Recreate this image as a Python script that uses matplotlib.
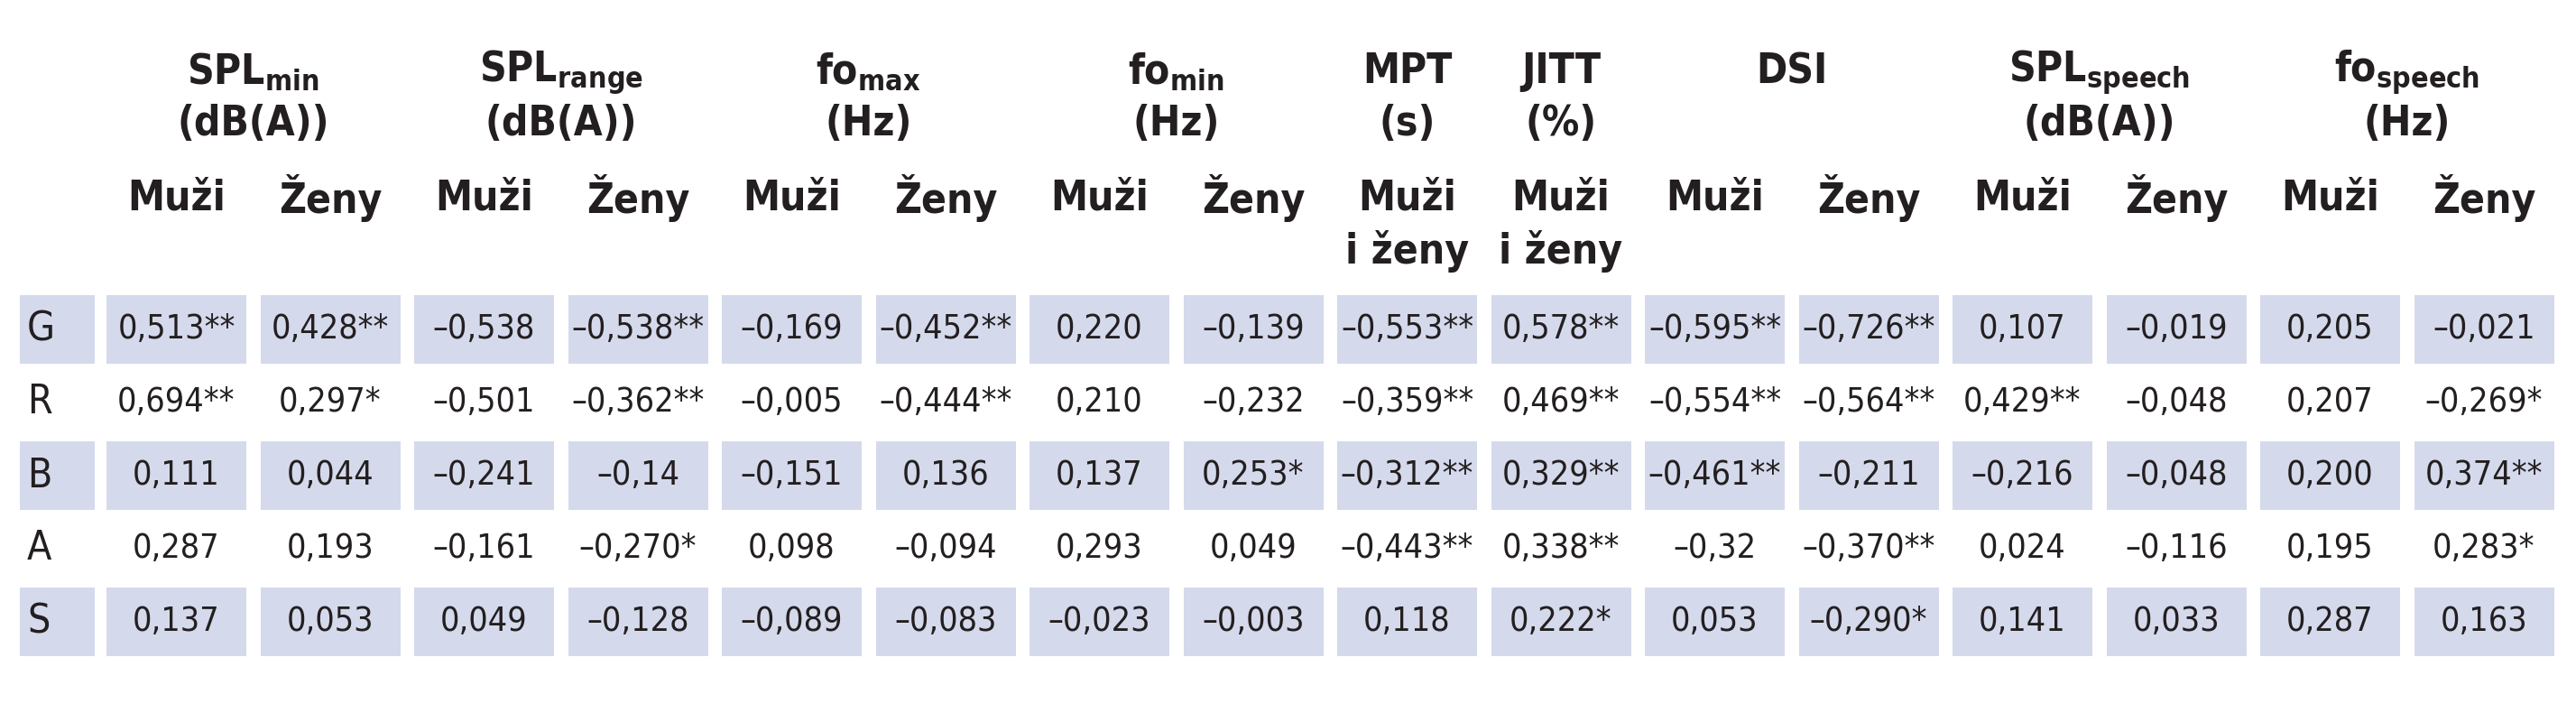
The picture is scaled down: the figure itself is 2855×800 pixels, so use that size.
import matplotlib
matplotlib.use("Agg")
import matplotlib.pyplot as plt
from matplotlib.patches import Rectangle

rows = ["G", "R", "B", "A", "S"]
groups = [r"SPL$_{\mathregular{min}}$", r"SPL$_{\mathregular{range}}$", r"fo$_{\mathregular{max}}$",
          r"fo$_{\mathregular{min}}$", "MPT", "JITT", "DSI", r"SPL$_{\mathregular{speech}}$",
          r"fo$_{\mathregular{speech}}$"]
units = ["(dB(A))", "(dB(A))", "(Hz)", "(Hz)", "(s)", "(%)", "", "(dB(A))", "(Hz)"]
group_span = [2, 2, 2, 2, 1, 1, 2, 2, 2]
subheads = ["Muži", "Ženy", "Muži", "Ženy", "Muži", "Ženy", "Muži", "Ženy",
            "Muži\ni ženy", "Muži\ni ženy", "Muži", "Ženy", "Muži", "Ženy", "Muži", "Ženy"]
values = [
    ["0,513**", "0,428**", "–0,538", "–0,538**", "–0,169", "–0,452**", "0,220", "–0,139",
     "–0,553**", "0,578**", "–0,595**", "–0,726**", "0,107", "–0,019", "0,205", "–0,021"],
    ["0,694**", "0,297*", "–0,501", "–0,362**", "–0,005", "–0,444**", "0,210", "–0,232",
     "–0,359**", "0,469**", "–0,554**", "–0,564**", "0,429**", "–0,048", "0,207", "–0,269*"],
    ["0,111", "0,044", "–0,241", "–0,14", "–0,151", "0,136", "0,137", "0,253*",
     "–0,312**", "0,329**", "–0,461**", "–0,211", "–0,216", "–0,048", "0,200", "0,374**"],
    ["0,287", "0,193", "–0,161", "–0,270*", "0,098", "–0,094", "0,293", "0,049",
     "–0,443**", "0,338**", "–0,32", "–0,370**", "0,024", "–0,116", "0,195", "0,283*"],
    ["0,137", "0,053", "0,049", "–0,128", "–0,089", "–0,083", "–0,023", "–0,003",
     "0,118", "0,222*", "0,053", "–0,290*", "0,141", "0,033", "0,287", "0,163"],
]

plt.rcParams["font.family"] = ["DejaVu Sans"]
plt.rcParams["font.stretch"] = "condensed"
plt.rcParams["mathtext.fontset"] = "custom"
plt.rcParams["mathtext.rm"] = "DejaVu Sans:bold:stretch=condensed"
shade = "#d5d9ec"
txt = "#231f20"
ST = "condensed"

fig = plt.figure(figsize=(28.55, 8), dpi=100)
ax = fig.add_axes([0, 0, 1, 1])
ax.set_xlim(0, 2855)
ax.set_ylim(800, 0)
ax.axis("off")

x0, cw, pitch = 118, 155, 170.5
row_y0, rh, rpitch = 327, 76, 81
centers = [x0 + i * pitch + cw / 2 for i in range(16)]

ci = 0
for g, u, s in zip(groups, units, group_span):
    cx = sum(centers[ci:ci + s]) / s
    ax.text(cx, 80, g, ha="center", va="center", fontsize=33, fontweight="bold",
            fontstretch=ST, color=txt)
    if u:
        ax.text(cx, 138, u, ha="center", va="center", fontsize=33, fontweight="bold",
                fontstretch=ST, color=txt)
    ci += s

for i, sh in enumerate(subheads):
    for k, line in enumerate(sh.split("\n")):
        ax.text(centers[i], 220 + k * 58, line, ha="center", va="center",
                fontsize=33, fontweight="bold", fontstretch=ST, color=txt)

for r, lab in enumerate(rows):
    y = row_y0 + r * rpitch
    if r % 2 == 0:
        ax.add_patch(Rectangle((22, y), 83, rh, color=shade, lw=0))
        for i in range(16):
            ax.add_patch(Rectangle((x0 + i * pitch, y), cw, rh, color=shade, lw=0))
    ax.text(30, y + rh / 2, lab, ha="left", va="center", fontsize=32,
            fontstretch=ST, color=txt)
    for i in range(16):
        ax.text(centers[i], y + rh / 2, values[r][i], ha="center", va="center",
                fontsize=27, fontstretch=ST, color=txt)

fig.savefig("out.png", dpi=100, facecolor="white")
